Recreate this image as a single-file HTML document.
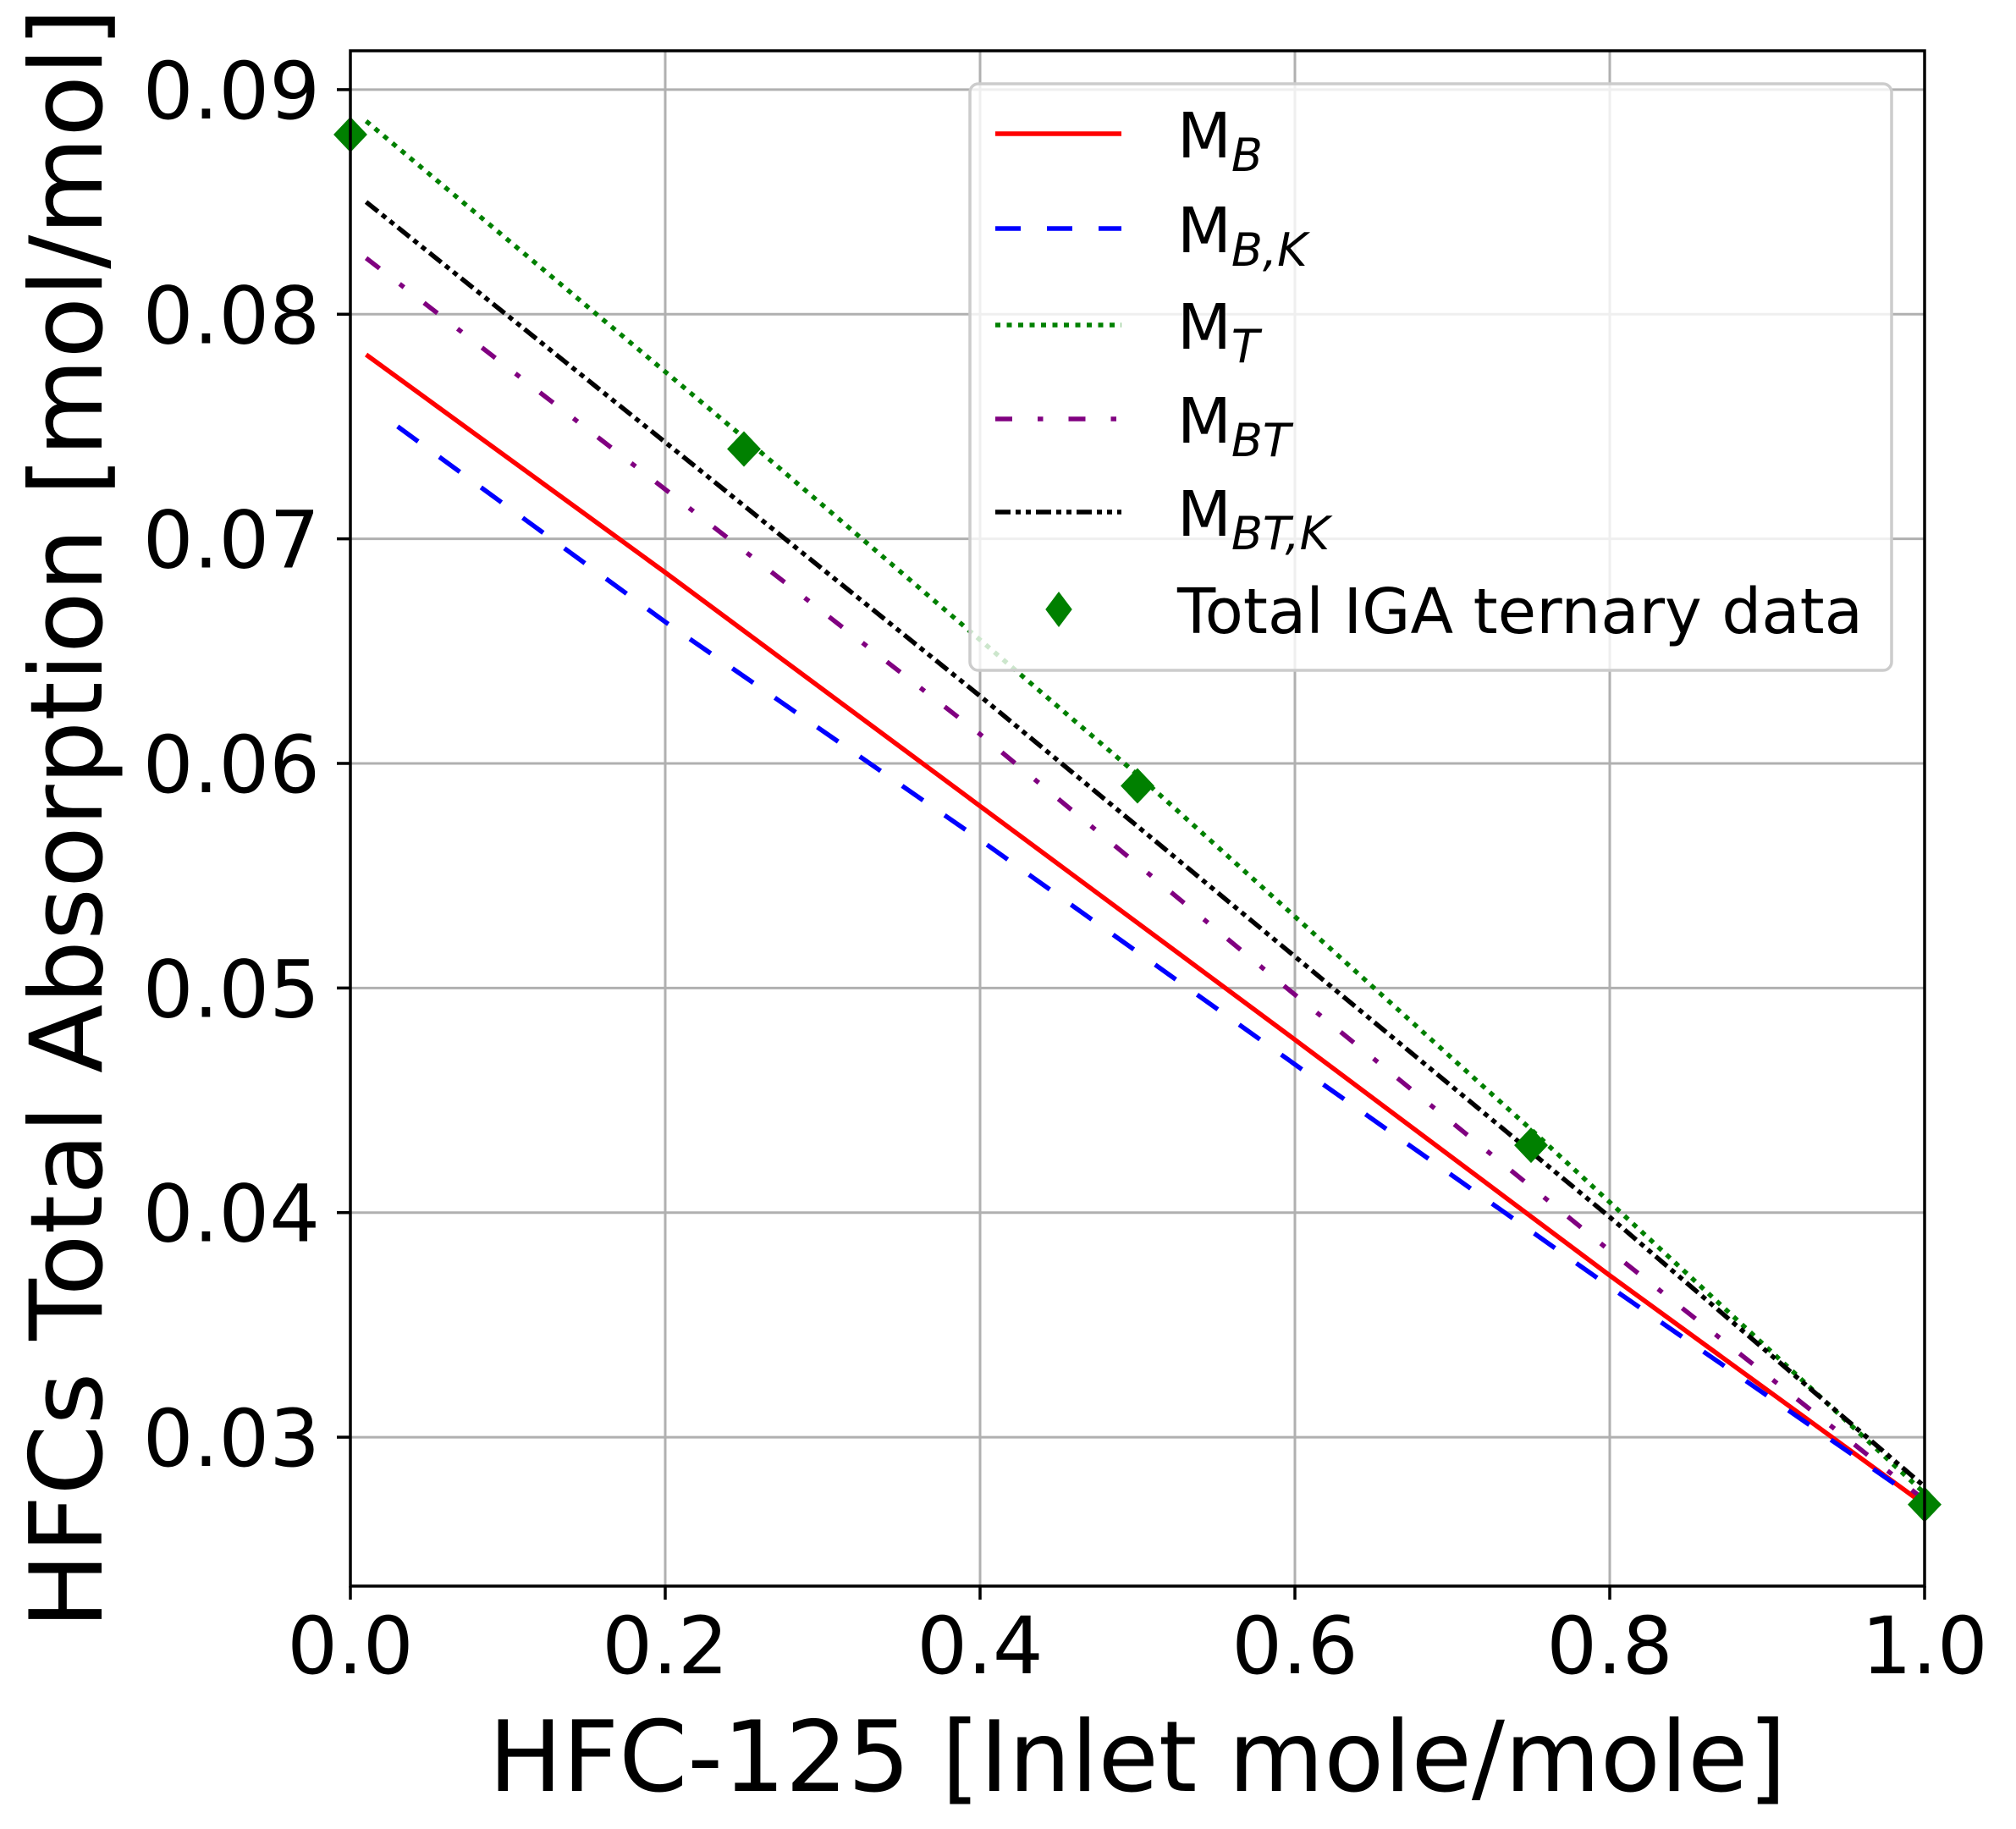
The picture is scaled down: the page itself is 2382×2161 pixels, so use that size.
<!DOCTYPE html>
<html><head><meta charset="utf-8"><style>
html,body{margin:0;padding:0;background:#fff;}
svg{display:block;font-family:"DejaVu Sans","Liberation Sans",sans-serif;}
</style></head><body>
<svg id="chart" width="2382" height="2161" viewBox="0 0 2382 2161" xmlns="http://www.w3.org/2000/svg">
<rect width="2382" height="2161" fill="#fff"/>
<g id="grid"></g>
<g id="series"></g>
<rect x="414" y="60" width="1860" height="1814" fill="none" stroke="#000" stroke-width="3.5"/>
<g id="ticks"></g>
<text x="1344" y="2116" font-size="116" text-anchor="middle">HFC-125 [Inlet mole/mole]</text>
<text transform="translate(120,967) rotate(-90)" font-size="119" text-anchor="middle">HFCs Total Absorption [mol/mol]</text>
<g id="legend">
<rect x="1146" y="99" width="1089" height="693" rx="10" fill="#fff" fill-opacity="0.8" stroke="#ccc" stroke-width="3.5"/>
</g>
</svg>
<script>
const xTicks = [0.0, 0.2, 0.4, 0.6, 0.8, 1.0];
const xTickLabels = ["0.0", "0.2", "0.4", "0.6", "0.8", "1.0"];
const yTicks = [0.03, 0.04, 0.05, 0.06, 0.07, 0.08, 0.09];
const yTickLabels = ["0.03", "0.04", "0.05", "0.06", "0.07", "0.08", "0.09"];
const xMB = [0.01, 0.2, 0.4, 0.6, 0.8, 1.0];
const yMB = [0.0782, 0.0685, 0.0581, 0.0477, 0.0372, 0.0270];
const xMBK = [0.03, 0.2, 0.4, 0.6, 0.8, 1.0];
const yMBK = [0.0750, 0.0663, 0.0566, 0.0466, 0.0367, 0.0270];
const xMT = [0.01, 0.25, 0.5, 0.75, 1.0];
const yMT = [0.0886, 0.0745, 0.0595, 0.0437, 0.0275];
const xMBT = [0.01, 0.2, 0.4, 0.6, 0.8, 1.0];
const yMBT = [0.0825, 0.0722, 0.0613, 0.0497, 0.0383, 0.0272];
const xMBTK = [0.01, 0.2, 0.4, 0.6, 0.8, 1.0];
const yMBTK = [0.0850, 0.0743, 0.0630, 0.0514, 0.0398, 0.0278];
const xData = [0.0, 0.25, 0.5, 0.75, 1.0];
const yData = [0.088, 0.074, 0.059, 0.043, 0.027];

const NS = "http://www.w3.org/2000/svg";
const L = 414, R = 2274, T = 60, B = 1874;
const X0 = 0, X1 = 1, Y0 = 0.02337, Y1 = 0.09173;
function sx(v){ return L + (v - X0) / (X1 - X0) * (R - L); }
function sy(v){ return B - (v - Y0) / (Y1 - Y0) * (B - T); }
function mk(tag, attrs, parent){
  const e = document.createElementNS(NS, tag);
  for (const k in attrs) e.setAttribute(k, attrs[k]);
  parent.appendChild(e);
  return e;
}
const grid = document.getElementById('grid');
const ticks = document.getElementById('ticks');
xTicks.forEach((v, i) => {
  const x = sx(v);
  const g = mk('line', {x1:x, x2:x, y1:T, y2:B, stroke:'#b0b0b0', 'stroke-width':3}, grid);
  
  
  const t = mk('line', {x1:x, x2:x, y1:B, y2:B+16, stroke:'#000', 'stroke-width':3.5}, ticks);
  
  
  const lb = mk('text', {x:x, y:1977, 'font-size':94, 'text-anchor':'middle'}, ticks);
  lb.textContent = xTickLabels[i];
  
  
});
yTicks.forEach((v, i) => {
  const y = sy(v);
  const g = mk('line', {x1:L, x2:R, y1:y, y2:y, stroke:'#b0b0b0', 'stroke-width':3}, grid);
  
  
  const t = mk('line', {x1:L-16, x2:L, y1:y, y2:y, stroke:'#000', 'stroke-width':3.5}, ticks);
  
  
  const lb = mk('text', {x:378, y:y+34, 'font-size':94, 'text-anchor':'end'}, ticks);
  lb.textContent = yTickLabels[i];
  
  
});
const series = document.getElementById('series');
const defs = [
  {xs:xMB, ys:yMB, color:'#ff0000', dash:'', name:'line-m-b', label:'M', sub:'B'},
  {xs:xMBK, ys:yMBK, color:'#0000ff', dash:'30 31', name:'line-m-b-k', label:'M', sub:'B,K'},
  {xs:xMT, ys:yMT, color:'#008000', dash:'6 7.5', name:'line-m-t', label:'M', sub:'T'},
  {xs:xMBT, ys:yMBT, color:'#800080', dash:'20 30 6.5 30', name:'line-m-bt', label:'M', sub:'BT'},
  {xs:xMBTK, ys:yMBTK, color:'#000000', dash:'18 6 6 6 6 6', name:'line-m-bt-k', label:'M', sub:'BT,K'}
];
defs.forEach(d => {
  const pts = d.xs.map((x, i) => sx(x).toFixed(1) + ',' + sy(d.ys[i]).toFixed(1)).join(' ');
  const a = {points:pts, fill:'none', stroke:d.color, 'stroke-width':5.5};
  if (d.dash) a['stroke-dasharray'] = d.dash;
  const p = mk('polyline', a, series);
  
  
});
xData.forEach((x, i) => {
  const cx = sx(x), cy = sy(yData[i]), r = 21;
  const p = mk('polygon', {points:`${cx},${cy-r} ${cx+r*0.95},${cy} ${cx},${cy+r} ${cx-r*0.95},${cy}`, fill:'#008000'}, series);
  
  
});
const leg = document.getElementById('legend');
const rowY = [158, 270, 384, 495, 605];
defs.forEach((d, i) => {
  const a = {x1:1176, x2:1325, y1:rowY[i], y2:rowY[i], stroke:d.color, 'stroke-width':5.5};
  if (d.dash) a['stroke-dasharray'] = d.dash;
  const l = mk('line', a, leg);
  
  
  const t = mk('text', {x:1391, y:rowY[i]+28, 'font-size':74}, leg);
  
  
  t.appendChild(document.createTextNode(d.label));
  const s = mk('tspan', {'font-size':54, 'font-style':'italic', dy:16}, t);
  s.textContent = d.sub;
});
{
  const cx = 1251, cy = 720, r = 21;
  const p = mk('polygon', {points:`${cx},${cy-r} ${cx+r*0.75},${cy} ${cx},${cy+r} ${cx-r*0.75},${cy}`, fill:'#008000'}, leg);
  
  
  const t = mk('text', {x:1391, y:748, 'font-size':74}, leg);
  t.textContent = 'Total IGA ternary data';
  
  
}
</script>
</body></html>
